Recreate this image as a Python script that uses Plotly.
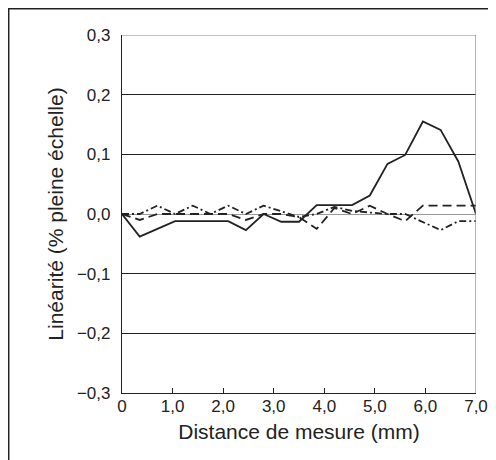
import plotly.graph_objects as go

# distance de mesure (mm) et linéarité (% pleine échelle)
x_mm = [0, 0.35, 0.7, 1.05, 1.4, 1.75, 2.1, 2.45, 2.8, 3.15, 3.5,
        3.85, 4.2, 4.55, 4.9, 5.25, 5.6, 5.95, 6.3, 6.65, 7.0]
serie_pleine = [0, -0.038, -0.025, -0.012, -0.012, -0.012, -0.012, -0.027, 0, -0.013, -0.013,
                0.015, 0.015, 0.015, 0.031, 0.084, 0.099, 0.155, 0.141, 0.088, 0]
serie_tirets = [0, -0.01, 0, 0, 0, 0, 0, -0.01, 0, 0, -0.005,
                -0.025, 0.01, 0, 0.014, 0, -0.012, 0.014, 0.014, 0.014, 0.014]
serie_mixte = [0, 0, 0.014, 0, 0.014, 0, 0.014, 0, 0.014, 0.005, -0.005,
               0, 0.012, 0.005, 0.003, 0, 0, -0.013, -0.027, -0.012, -0.012]

y_ticks = [-0.3, -0.2, -0.1, 0, 0.1, 0.2, 0.3]
y_labels = ["\u22120,3", "\u22120,2", "\u22120,1", "0,0", "0,1", "0,2", "0,3"]
x_ticks = [0, 1, 2, 3, 4, 5, 6, 7]
x_labels = ["0", "1,0", "2,0", "3,0", "4,0", "5,0", "6,0", "7,0"]

ink = "#222222"

fig = go.Figure()
for ys, dash in [(serie_tirets, "9px,5px"), (serie_mixte, "7px,3px,2px,3px"), (serie_pleine, "solid")]:
    fig.add_trace(go.Scatter(x=x_mm, y=ys, mode="lines",
                             line=dict(color=ink, width=1.8, dash=dash),
                             showlegend=False, hoverinfo="skip"))

fig.update_layout(
    width=496,
    height=460,
    margin=dict(l=114, r=28, t=27, b=75),
    plot_bgcolor="white",
    paper_bgcolor="white",
    font=dict(family="Liberation Sans, Arial, sans-serif", size=17, color=ink),
    xaxis=dict(
        range=[0, 7],
        tickvals=x_ticks,
        ticktext=x_labels,
        showgrid=False,
        zeroline=False,
        showline=True,
        linecolor=ink,
        linewidth=1.2,
        ticks="inside",
        ticklen=5,
        tickcolor=ink,
        ticklabelstandoff=-3,
        automargin=False,
        title=dict(text="Distance de mesure (mm)", font=dict(size=21), standoff=9),
    ),
    yaxis=dict(
        range=[-0.3, 0.3],
        tickvals=y_ticks,
        ticktext=y_labels,
        showgrid=True,
        gridcolor=ink,
        gridwidth=1,
        zeroline=True,
        zerolinecolor="#999999",
        zerolinewidth=1.2,
        showline=True,
        linecolor=ink,
        linewidth=1.2,
        ticklen=0,
        ticklabelstandoff=7,
        automargin=False,
        title=dict(text="Linéarité (% pleine échelle)", font=dict(size=21), standoff=7),
    ),
    shapes=[
        # bordure haute et droite en gris
        dict(type="line", xref="x", yref="y", x0=0, x1=7, y0=0.3, y1=0.3,
             line=dict(color="#888888", width=1.2), layer="above"),
        dict(type="line", xref="x", yref="y", x0=7, x1=7, y0=-0.3, y1=0.3,
             line=dict(color="#888888", width=1.2), layer="above"),
        # cadre extérieur
        dict(type="rect", xref="paper", yref="paper",
             x0=-0.320, x1=1.048, y0=-0.237, y1=1.073,
             line=dict(color=ink, width=1.5)),
    ],
)

fig.write_html("out.html")
